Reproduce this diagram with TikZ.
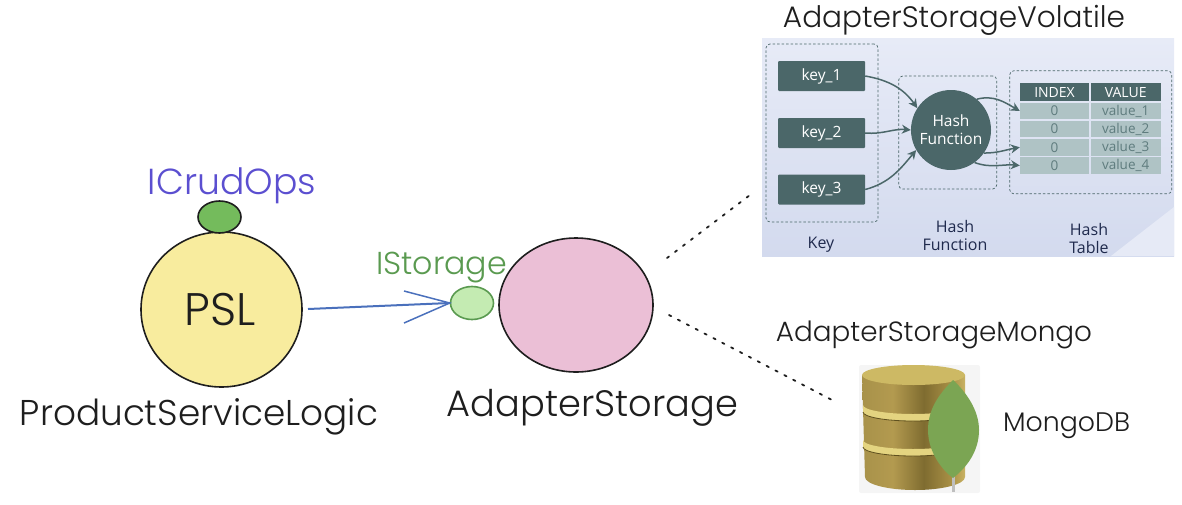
\documentclass[tikz,border=0pt]{standalone}
\usepackage{fontspec}
\setmainfont{Poppins Light}
\newfontfamily\panelfont{Open Sans}
\usetikzlibrary{shapes.geometric,arrows.meta}
\definecolor{inkc}{HTML}{1E1E1E}
\definecolor{yellowc}{HTML}{F8EC9E}
\definecolor{pinkc}{HTML}{EBBFD6}
\definecolor{lgreenc}{HTML}{C4EBB2}
\definecolor{dgreenc}{HTML}{74BB5C}
\definecolor{purplec}{HTML}{5B4FD0}
\definecolor{istc}{HTML}{5A9A50}
\definecolor{bluec}{HTML}{4A70BC}
\definecolor{tealc}{HTML}{4B6769}
\definecolor{rowc}{HTML}{AFC3C5}
\definecolor{rowtxt}{HTML}{5F7C7E}
\definecolor{navyc}{HTML}{1F2A4D}
\definecolor{leafc}{HTML}{7BA553}
\definecolor{panelt}{HTML}{E7EBF7}
\definecolor{panelb}{HTML}{D3DAEE}
\definecolor{panell}{HTML}{E6EAF6}
\definecolor{gold1}{HTML}{A8924A}
\definecolor{gold2}{HTML}{B39A4F}
\definecolor{gold3}{HTML}{7F6C30}
\definecolor{gold4}{HTML}{A88F45}
\definecolor{gold5}{HTML}{E0CB78}
\definecolor{gold6}{HTML}{C4AC5C}
\definecolor{goldtop}{HTML}{CDB964}
\definecolor{goldlight}{HTML}{E4D480}
\definecolor{golddark}{HTML}{5F501E}
\pgfdeclarehorizontalshading{goldshade}{100bp}{color(0bp)=(gold1);color(25bp)=(gold1);color(40bp)=(gold2);color(55bp)=(gold3);color(68bp)=(gold4);color(80bp)=(gold5);color(100bp)=(gold6)}
\newcommand{\fitw}[2]{\resizebox{#1pt}{!}{#2}}
\tikzset{
 hand/.style={inner sep=0pt,outer sep=0pt,text=inkc},
 blob/.style={ellipse,draw=inkc,line width=1.6pt,inner sep=0pt},
 dots/.style={inkc,line width=1.8pt,dash pattern=on 2.5pt off 7.5pt,line cap=round},
 keybox/.style={fill=tealc,rounded corners=1pt,minimum width=87pt,minimum height=30pt,inner sep=0pt,text=white,font=\panelfont\fontsize{15.5}{17}\selectfont},
 zone/.style={draw=tealc,line width=.7pt,dash pattern=on 2.5pt off 2pt,rounded corners=4pt,inner sep=0pt},
 hdr/.style={fill=tealc,text=white,inner sep=0pt,font=\panelfont\fontsize{14}{15}\selectfont},
 cell/.style={fill=rowc,text=rowtxt,inner sep=0pt,font=\panelfont\fontsize{13.5}{14}\selectfont},
 flow/.style={tealc,line width=1.5pt,-{Stealth[length=9pt,width=9pt]}},
 captxt/.style={text=navyc,align=center,inner sep=0pt,font=\panelfont\fontsize{16}{18}\selectfont}
}
\begin{document}
\begin{tikzpicture}[x=1pt,y=-1pt]
\useasboundingbox (0,0) rectangle (1182,504);
% PSL side
\node[blob,fill=yellowc,minimum width=161pt,minimum height=155pt] (psl) at (221.5,309.5) {};
\node[hand] (psltxt) at (220.5,310) {\fitw{71}{PSL}};
\node[blob,fill=dgreenc,minimum width=43pt,minimum height=32pt] (crud) at (219.5,217) {};
\node[hand,text=purplec] (crudtxt) at (232,186) {\fitw{168}{ICrudOps}};
\node[hand] (psllabel) at (199,417) {\fitw{358}{ProductServiceLogic}};
% Adapter
\node[blob,fill=pinkc,minimum width=154pt,minimum height=134pt] (adapter) at (576,305) {};
\node[blob,draw=istc,fill=lgreenc,minimum width=43pt,minimum height=33pt] (ist) at (472,303) {};
\node[hand,text=istc] (isttxt) at (441.5,268) {\fitw{131}{IStorage}};
\node[hand] (adlabel) at (592.5,408) {\fitw{291}{AdapterStorage}};
\coordinate (b1) at (404,291);
\coordinate (b2) at (404,323);
\coordinate (a0) at (308,309);
\draw[bluec,line width=2pt] (a0) -- (ist.west);
\draw[bluec,line width=1.5pt] (b1) -- (ist.west) -- (b2);
% dotted leaders
\coordinate (v1) at (667,258);
\coordinate (v2) at (750,195);
\coordinate (m1) at (669,315);
\coordinate (m2) at (832,400);
\draw[dots] (v1) -- (v2);
\draw[dots] (m1) -- (m2);
% Volatile panel
\node[hand] (voltxt) at (954,20) {\fitw{342}{AdapterStorageVolatile}};
\fill[top color=panelt,bottom color=panelb] (762,38) rectangle (1174,256);
\fill[panell] (1111,256) -- (1174,207) -- (1174,256) -- cycle;
\node[zone,minimum width=112pt,minimum height=178pt] (zkey) at (822,133) {};
\node[zone,minimum width=98pt,minimum height=113pt] (zhash) at (947.7,132.5) {};
\node[zone,minimum width=162pt,minimum height=123pt] (ztab) at (1090.7,132.3) {};
\node[keybox] (k1) at (821.5,76) {key\_1};
\node[keybox] (k2) at (821.5,133) {key\_2};
\node[keybox] (k3) at (821.5,189.5) {key\_3};
\node[circle,fill=tealc,minimum size=80pt,inner sep=0pt,align=center,text=white,font=\panelfont\fontsize{15.5}{18}\selectfont] (hash) at (951,130) {Hash\\Function};
\node[hdr,minimum width=69pt,minimum height=18pt] (h1) at (1054.5,92.3) {INDEX};
\node[hdr,minimum width=70pt,minimum height=18pt] (h2) at (1125.7,92.3) {VALUE};
\foreach \n/\y/\v in {1/111/value\_1,2/129/value\_2,3/147.3/value\_3,4/165.5/value\_4}{
 \node[cell,minimum width=69pt,minimum height=16.6pt] (i\n) at (1054.5,\y) {0};
 \node[cell,minimum width=70pt,minimum height=16.6pt] (v\n) at (1125.7,\y) {\v};
}
\draw[flow] (k1.east) to[out=-10,in=125] (hash.147);
\draw[flow] (k2.east) to[out=-5,in=175] (hash.west);
\draw[flow] (k3.east) to[out=15,in=-130] (hash.210);
\draw[flow] (hash.50) to[out=15,in=150] (i1.west);
\draw[flow] (hash.-35) to[out=0,in=-170] (i3.west);
\draw[flow] (hash.-54) to[out=-20,in=175] (i4.west);
\node[captxt] (capk) at (821,245) {Key};
\node[captxt] (caph) at (955,235) {Hash\\Function};
\node[captxt] (capb) at (1089,238) {Hash\\Table};
% Mongo
\node[hand] (mongotxt) at (934,335) {\fitw{316}{AdapterStorageMongo}};
\node[hand] (mdb) at (1066.5,426) {\fitw{127}{MongoDB}};
\fill[black!4,rounded corners=2pt] (859,365) rectangle (980,493);
\shade[shading=goldshade] (862,375) -- (865,477) arc[start angle=180,end angle=360,x radius=50pt,y radius=13pt] -- (965,375) -- cycle;
\fill[goldtop] (913.5,375) ellipse[x radius=51.5pt,y radius=10pt];
\foreach \t in {405,440}{
 \fill[goldlight] (863,\t) arc[start angle=180,end angle=360,x radius=50pt,y radius=9pt] -- ++(0,7) arc[start angle=360,end angle=180,x radius=50pt,y radius=9pt] -- cycle;
 \draw[golddark,line width=.8pt] (863,\t+7) arc[start angle=180,end angle=360,x radius=50pt,y radius=9pt];
}
\fill[black!25] (952,470) rectangle (955,492);
\fill[leafc] (953,380) .. controls (938,395) and (928,410) .. (928,430) .. controls (928,452) and (942,470) .. (953,478) .. controls (966,468) and (979,452) .. (979,430) .. controls (979,410) and (966,392) .. (953,380) -- cycle;
\end{tikzpicture}
\end{document}
